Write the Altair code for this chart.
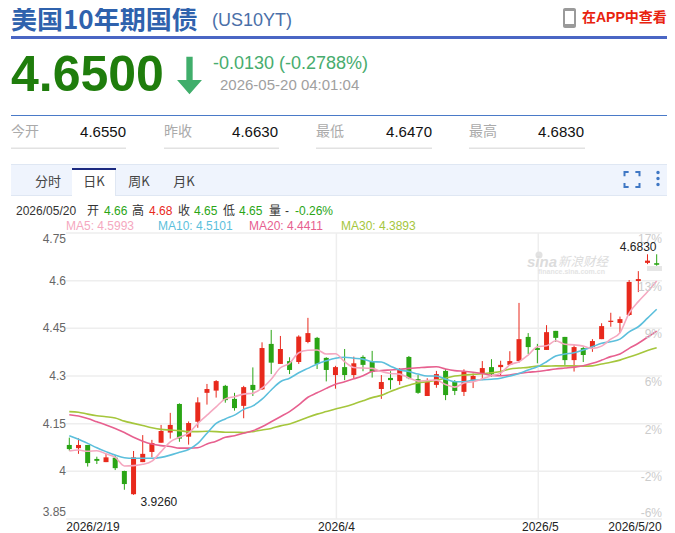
import altair as alt

# ---------- data ----------
open_ = [4.083,4.073,4.083,4.039,4.029,4.043,4.001,3.928,4.029,4.061,
         4.090,4.122,4.212,4.109,4.156,4.247,4.254,4.269,4.228,4.206,
         4.272,4.258,4.401,4.338,4.347,4.344,4.407,4.420,4.357,4.303,
         4.328,4.303,4.360,4.344,4.259,4.294,4.284,4.360,4.290,4.237,
         4.272,4.316,4.282,4.250,4.287,4.308,4.328,4.328,4.335,4.347,
         4.423,4.388,4.382,4.442,4.423,4.350,4.388,4.391,4.416,4.470,
         4.467,4.492,4.599,4.656,4.655]
close = [4.070,4.083,4.026,4.033,4.044,4.010,3.960,4.044,4.055,4.089,
         4.127,4.146,4.103,4.152,4.217,4.259,4.284,4.224,4.199,4.265,
         4.256,4.388,4.342,4.385,4.319,4.424,4.435,4.338,4.319,4.328,
         4.303,4.340,4.335,4.313,4.281,4.287,4.319,4.293,4.247,4.282,
         4.306,4.240,4.253,4.314,4.300,4.325,4.306,4.335,4.347,4.416,
         4.391,4.382,4.438,4.420,4.350,4.391,4.366,4.410,4.457,4.474,
         4.479,4.596,4.605,4.663,4.650]
high = [4.106,4.104,4.083,4.046,4.055,4.048,4.002,4.064,4.114,4.099,
        4.146,4.184,4.214,4.157,4.233,4.275,4.287,4.272,4.247,4.269,
        4.327,4.406,4.445,4.426,4.359,4.428,4.483,4.423,4.359,4.332,
        4.385,4.361,4.365,4.379,4.303,4.315,4.325,4.363,4.303,4.293,
        4.316,4.322,4.287,4.321,4.308,4.347,4.353,4.348,4.378,4.530,
        4.435,4.401,4.460,4.442,4.423,4.398,4.391,4.416,4.466,4.499,
        4.487,4.602,4.630,4.683,4.683]
low = [4.065,4.055,4.015,4.023,4.029,4.004,3.942,3.926,4.029,4.044,
       4.090,4.103,4.093,4.084,4.137,4.210,4.232,4.216,4.191,4.167,
       4.237,4.256,4.306,4.338,4.306,4.338,4.403,4.322,4.283,4.260,
       4.287,4.293,4.315,4.295,4.228,4.258,4.272,4.290,4.244,4.237,
       4.263,4.224,4.240,4.237,4.262,4.287,4.297,4.303,4.335,4.342,
       4.369,4.340,4.382,4.407,4.335,4.314,4.344,4.376,4.416,4.455,
       4.435,4.489,4.564,4.652,4.647]
ma5 = [4.064,4.067,4.063,4.065,4.055,4.044,4.017,4.018,4.022,4.032,
       4.062,4.093,4.107,4.120,4.151,4.177,4.203,4.228,4.235,4.243,
       4.246,4.262,4.290,4.326,4.340,4.373,4.381,4.382,4.369,4.370,
       4.345,4.327,4.325,4.324,4.314,4.308,4.306,4.294,4.284,4.286,
       4.287,4.273,4.265,4.278,4.282,4.291,4.301,4.309,4.335,4.345,
       4.366,4.392,4.395,4.411,4.400,4.398,4.394,4.387,4.394,4.416,
       4.436,4.498,4.534,4.565,4.599]
ma10 = [4.112,4.101,4.088,4.074,4.062,4.051,4.043,4.041,4.041,4.041,
        4.044,4.051,4.060,4.069,4.088,4.120,4.151,4.165,4.177,4.195,
        4.206,4.227,4.256,4.282,4.293,4.310,4.324,4.338,4.348,4.356,
        4.359,4.356,4.353,4.345,4.344,4.331,4.319,4.314,4.306,4.300,
        4.300,4.290,4.282,4.282,4.287,4.288,4.290,4.293,4.300,4.308,
        4.319,4.329,4.345,4.363,4.369,4.373,4.382,4.392,4.403,4.408,
        4.416,4.439,4.455,4.482,4.510]
ma20 = [4.178,4.174,4.166,4.156,4.146,4.135,4.122,4.107,4.095,4.086,
        4.081,4.078,4.073,4.073,4.074,4.086,4.095,4.107,4.112,4.120,
        4.128,4.140,4.156,4.172,4.188,4.209,4.233,4.247,4.261,4.274,
        4.282,4.291,4.301,4.314,4.317,4.319,4.321,4.324,4.326,4.328,
        4.329,4.322,4.317,4.315,4.312,4.308,4.302,4.301,4.303,4.308,
        4.312,4.314,4.318,4.322,4.325,4.328,4.332,4.340,4.350,4.361,
        4.369,4.387,4.403,4.422,4.441]
ma30 = [4.188,4.186,4.180,4.175,4.172,4.168,4.158,4.151,4.144,4.137,
        4.132,4.130,4.128,4.125,4.125,4.126,4.125,4.123,4.123,4.122,
        4.125,4.130,4.135,4.143,4.149,4.159,4.170,4.180,4.188,4.196,
        4.203,4.212,4.222,4.232,4.239,4.251,4.262,4.271,4.279,4.282,
        4.287,4.293,4.300,4.303,4.305,4.307,4.310,4.314,4.322,4.325,
        4.327,4.331,4.331,4.332,4.332,4.332,4.331,4.332,4.338,4.343,
        4.350,4.360,4.369,4.380,4.389]
price_ticks = [4.75, 4.6, 4.45, 4.3, 4.15, 4.0, 3.85]
price_labels = ["4.75", "4.6", "4.45", "4.3", "4.15", "4", "3.85"]
pct_labels = ["17%", "13%", "9%", "6%", "2%", "-2%", "-6%"]
grid_x = [29.1, 51.1]
stats = [("今开", "4.6550"), ("昨收", "4.6630"), ("最低", "4.6470"), ("最高", "4.6830")]

GREEN, RED = "#2aa515", "#e8291c"
FONT = "Liberation Sans, Noto Sans CJK SC"
CJK = "Noto Sans CJK SC"

# plot area in page pixels
X0, Y0, PW, PH = 66, 233, 596, 286
PAGE_R = 667
xs = alt.Scale(domain=[-0.36, 64.58], nice=False, zero=False, padding=0)
ys = alt.Scale(domain=[3.85, 4.75], nice=False, zero=False)
X = alt.X("i:Q", scale=xs, axis=None)
Y = alt.Y("v:Q", scale=ys, axis=None)


def blank(row=None):
    return alt.Chart(alt.Data(values=[row or {"t": ""}]))


def T(px, py, s, size=12, color="#333", align="left", weight="normal", font=FONT, **kw):
    return blank({"t": s}).mark_text(fontSize=size, color=color, align=align, baseline="middle",
                                     fontWeight=weight, font=font, **kw).encode(
        x=alt.value(px - X0), y=alt.value(py - Y0), text="t:N")


def R(x1, y1, x2, y2, color, **kw):
    return blank().mark_rect(color=color, **kw).encode(
        x=alt.value(x1 - X0), x2=alt.value(x2 - X0), y=alt.value(y1 - Y0), y2=alt.value(y2 - Y0))


def P(px, py, shape, size, color, filled=True, **kw):
    return blank().mark_point(shape=shape, size=size, filled=filled, opacity=1,
                              color=color, **kw).encode(
        x=alt.value(px - X0), y=alt.value(py - Y0))


layers = []

# ---------- header ----------
layers += [
    T(11, 21, "美国10年期国债", 26, "#2f62ad", weight="bold", font=CJK),
    T(212, 21, "(US10YT)", 18, "#4a6fa8"),
    R(563, 8, 576, 28, "#9a9a9a", cornerRadius=2),
    R(565, 11, 574, 24, "#ffffff"),
    T(582, 18, "在APP中查看", 14, "#e8220e", weight="bold"),
    R(11, 36, PAGE_R, 39, "#4a66c4"),
    T(11, 76, "4.6500", 50, "#1f7d0c", weight="bold"),
    P(189.5, 75.5, "M-0.16,-0.95L0.16,-0.95L0.16,0.23L0.63,0.23L0,0.95L-0.63,0.23L-0.16,0.23Z",
      1560, "#40ae6b", strokeWidth=0),
    T(213, 64, "-0.0130 (-0.2788%)", 18, "#47ac6e"),
    T(220, 85, "2026-05-20 04:01:04", 15, "#a0a0a0"),
    R(11, 115, PAGE_R, 116, "#4a7ac8"),
]
for (lab, val), lx, vx, ux in zip(stats, [11, 164, 316, 469], [126, 278, 432, 584], [126, 279, 432, 585]):
    layers += [T(lx, 132, lab, 14, "#aaaaaa", font=CJK),
               T(vx, 132, val, 15, "#111111", align="right"),
               R(lx, 147.5, ux, 149, "#e2e2e2")]

# ---------- tab bar ----------
layers += [
    R(11, 164, PAGE_R, 195, "#eff4fd"),
    R(11, 164, PAGE_R, 165, "#dfe7f3"),
    R(11, 195, PAGE_R, 196, "#dfe7f3"),
    R(72, 168, 116, 196, "#ffffff"),
    R(72, 168, 116, 170, "#1c2a80"),
    R(115, 170, 116, 196, "#dfe7f3"),
    T(48, 182, "分时", 13, "#444", align="center", font=CJK),
    T(94, 182, "日K", 13, "#444", align="center", font=CJK),
    T(139, 182, "周K", 13, "#444", align="center", font=CJK),
    T(184, 182, "月K", 13, "#444", align="center", font=CJK),
    P(632, 179.5, "M-1,-0.45L-1,-1L-0.45,-1M0.45,-1L1,-1L1,-0.45M1,0.45L1,1L0.45,1M-0.45,1L-1,1L-1,0.45",
      225, "#3f77c4", filled=False, strokeWidth=2),
    P(658, 172.5, "circle", 12, "#3f77c4"),
    P(658, 178.5, "circle", 12, "#3f77c4"),
    P(658, 184.5, "circle", 12, "#3f77c4"),
]

# ---------- info lines ----------
for px, s, c in [(16, "2026/05/20", "#333"), (87, "开", "#333"), (104, "4.66", GREEN), (132, "高", "#333"),
                 (149, "4.68", RED), (178, "收", "#333"), (194, "4.65", GREEN), (223, "低", "#333"),
                 (239, "4.65", GREEN), (269, "量", "#333"), (285, "-", "#333"), (295, "-0.26%", GREEN)]:
    layers.append(T(px, 211, s, 12, c))
layers += [T(66, 226, "MA5: 4.5993", 12, "#f5a8c0"),
           T(158, 226, "MA10: 4.5101", 12, "#5cbfdc"),
           T(249, 226, "MA20: 4.4411", 12, "#e7608f"),
           T(341, 226, "MA30: 4.3893", 12, "#a5c63c")]

# ---------- grid ----------
grid_h = alt.Chart(alt.Data(values=[{"v": v} for v in price_ticks])).mark_rule(
    color="#eeeeee", strokeWidth=1.5).encode(y=Y)
grid_v = alt.Chart(alt.Data(values=[{"i": v} for v in grid_x])).mark_rule(
    color="#eeeeee", strokeWidth=1.5).encode(x=X)
layers += [grid_h, grid_v]

# watermark
layers += [
    P(539, 255, "circle", 50, "#e2e2e2"),
    T(527, 262, "sina", 15, "#dcdcdc", weight="bold", fontStyle="italic"),
    T(558, 262, "新浪财经", 12.5, "#dcdcdc", font=CJK, fontStyle="italic"),
    T(538, 272, "finance.sina.com.cn", 7, "#e4e4e4", weight="bold"),
    R(647, 266, 662, 271, "#e6e6e6"),
]

# ---------- candles ----------
rows = [{"i": k, "o": open_[k], "c": close[k], "h": high[k], "l": low[k],
         "d": "up" if close[k] >= open_[k] else "down"} for k in range(len(open_))]
candles = alt.Data(values=rows)
col = alt.Color("d:N", scale=alt.Scale(domain=["up", "down"], range=[RED, GREEN]), legend=None)
layers.append(alt.Chart(candles).mark_rule(strokeWidth=1).encode(
    x=X, y=alt.Y("l:Q", scale=ys, axis=None), y2="h:Q", color=col))
layers.append(alt.Chart(candles).mark_bar(size=5, stroke=None).encode(
    x=X, y=alt.Y("o:Q", scale=ys, axis=None), y2="c:Q", color=col))

# ---------- moving averages ----------
for series, c in [(ma30, "#a5c63c"), (ma20, "#e7608f"), (ma10, "#5cbfdc"), (ma5, "#f5a8c0")]:
    layers.append(alt.Chart(alt.Data(values=[{"i": k, "v": v} for k, v in enumerate(series)])).mark_line(
        color=c, strokeWidth=1.6, interpolate="monotone").encode(x=X, y=Y))

# ---------- axis texts ----------
for v, s, dy in zip(price_ticks, price_labels, [6, 0, 0, 0, 0, 0, -7]):
    layers.append(alt.Chart(alt.Data(values=[{"v": v, "t": s}])).mark_text(
        fontSize=12, color="#666", align="right", baseline="middle", dy=dy, font=FONT).encode(
        x=alt.value(0), y=Y, text="t:N"))
for v, s, dy in zip(price_ticks, pct_labels, [6, 6, 6, 6, 6, 6, -6]):
    layers.append(alt.Chart(alt.Data(values=[{"v": v, "t": s}])).mark_text(
        fontSize=12, color="#cccccc", align="right", baseline="middle", dy=dy, font=FONT).encode(
        x=alt.value(PW), y=Y, text="t:N"))
for k, s, al, dx in [(0, "2026/2/19", "left", -3), (29, "2026/4", "center", 1),
                     (51, "2026/5", "center", 3), (64, "2026/5/20", "right", 5)]:
    layers.append(alt.Chart(alt.Data(values=[{"i": k, "t": s}])).mark_text(
        fontSize=12, color="#222", align=al, baseline="middle", dx=dx, font=FONT).encode(
        x=X, y=alt.value(PH + 8), text="t:N"))

# high / low labels
layers.append(alt.Chart(alt.Data(values=[{"i": 7, "v": low[7], "t": "3.9260"}])).mark_text(
    fontSize=12, color="#222", align="left", baseline="middle", dx=7, dy=7, font=FONT).encode(x=X, y=Y, text="t:N"))
layers.append(alt.Chart(alt.Data(values=[{"i": 63, "v": high[63], "t": "4.6830"}])).mark_text(
    fontSize=12, color="#222", align="right", baseline="middle", dx=9, dy=-7, font=FONT).encode(x=X, y=Y, text="t:N"))

chart = alt.layer(*layers).properties(
    width=PW, height=PH,
    padding={"left": X0 - 8, "top": Y0 - 8, "right": (PAGE_R - 8) - (X0 - 8) - PW, "bottom": 525 - (Y0 - 8) - PH},
    autosize=alt.AutoSizeParams(type="none"),
).configure_view(stroke=None)

chart.save("out.html", embed_options={"renderer": "svg", "actions": False})
